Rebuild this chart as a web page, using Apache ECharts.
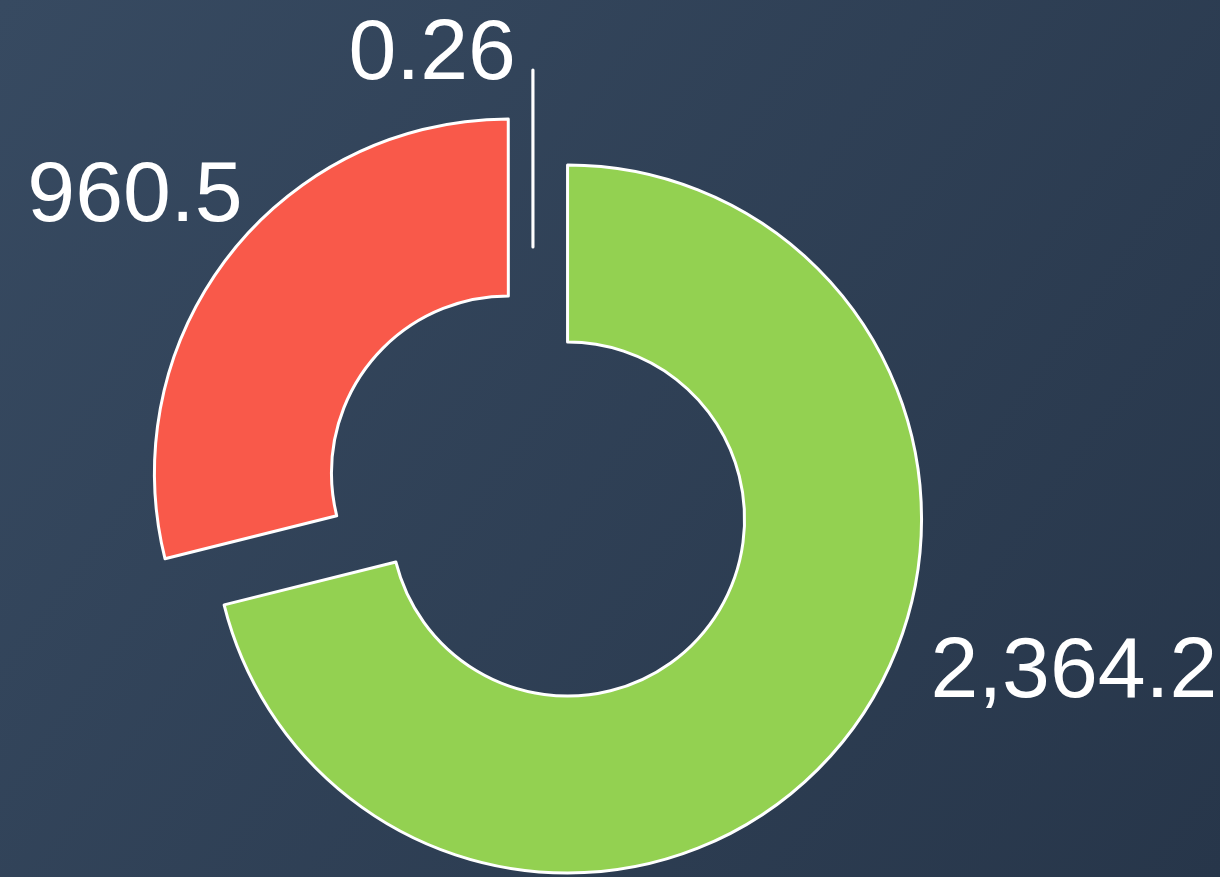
<!DOCTYPE html>
<html>
<head>
<meta charset="utf-8">
<script src="https://cdn.jsdelivr.net/npm/echarts@6/dist/echarts.min.js"></script>
<style>
  html, body { margin: 0; padding: 0; }
  #chart { width: 1220px; height: 877px; }
</style>
</head>
<body>
<div id="chart"></div>
<script>
// slice values, clockwise from 12 o'clock
const sliceValues = [2364.2, 960.5, 0.26];
const sliceColors = ['#93d151', '#f9594a', '#ffffff'];
// which slices are pulled out of the ring
const sliceSelected = [true, true, false];
// label nudges [dx, dy]
const labelNudge = [[37, -73], [60, -49], [18, 0]];

function fmt(p) {
  return p.value.toLocaleString('en-US', { maximumFractionDigits: 2 });
}

function buildData(visible) {
  return sliceValues.map(function (v, i) {
    const show = visible[i];
    return {
      value: v,
      selected: show && sliceSelected[i],
      itemStyle: show
        ? { color: sliceColors[i], borderColor: '#fff', borderWidth: 3 }
        : { color: 'transparent', borderWidth: 0 },
      label: { show: show }
    };
  });
}

const labelStyle = {
  show: true,
  position: 'outside',
  color: '#fff',
  fontSize: 86,
  fontFamily: 'Liberation Sans, Arial, sans-serif',
  formatter: fmt
};

function nudge(params) {
  const n = labelNudge[params.dataIndex];
  return { dx: n[0], dy: n[1] };
}

const chart = echarts.init(document.getElementById('chart'));
chart.setOption({
  animation: false,
  backgroundColor: {
    type: 'linear', x: 0, y: 0, x2: 1, y2: 1,
    colorStops: [
      { offset: 0, color: '#374a61' },
      { offset: 1, color: '#27364a' }
    ]
  },
  series: [
    {
      type: 'pie',
      center: [538, 496],
      radius: [177, 354],
      startAngle: 90,
      selectedMode: 'multiple',
      selectedOffset: 37.5,
      avoidLabelOverlap: false,
      silent: true,
      label: labelStyle,
      labelLine: { show: false },
      labelLayout: nudge,
      data: buildData([true, true, false])
    },
    {
      // the tiny slice sits on its own, further out
      type: 'pie',
      center: [533, 424],
      radius: [177, 354],
      startAngle: 90,
      avoidLabelOverlap: false,
      silent: true,
      label: labelStyle,
      labelLine: { show: false },
      labelLayout: nudge,
      data: buildData([false, false, true])
    }
  ]
});
</script>
</body>
</html>
